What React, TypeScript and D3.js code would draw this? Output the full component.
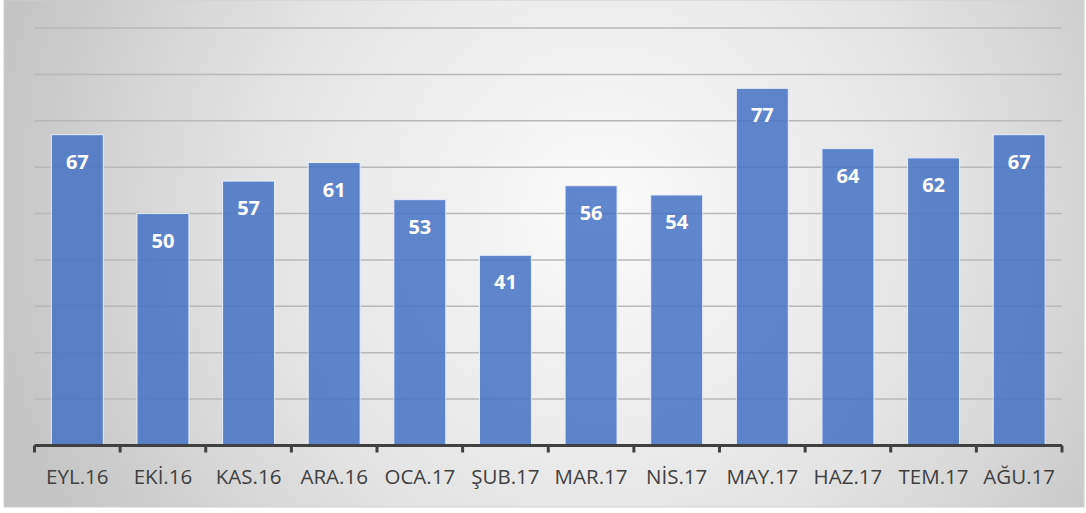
import React, { useEffect, useRef } from "react";
import * as d3 from "d3";

const months = ["EYL.16", "EKİ.16", "KAS.16", "ARA.16", "OCA.17", "ŞUB.17", "MAR.17", "NİS.17", "MAY.17", "HAZ.17", "TEM.17", "AĞU.17"];
const values = [67, 50, 57, 61, 53, 41, 56, 54, 77, 64, 62, 67];
const gridTicks = [10, 20, 30, 40, 50, 60, 70, 80, 90];

const W = 1086;
const H = 513;

function drawChart(node: SVGSVGElement) {
  const margin = { top: 28, right: 24, bottom: 67.5, left: 34.5 };
  const svg = d3.select(node);
  svg.selectAll("*").remove();

  const defs = svg.append("defs");
  const grad = defs.append("radialGradient")
    .attr("id", "bg")
    .attr("gradientUnits", "userSpaceOnUse")
    .attr("cx", 600).attr("cy", 210).attr("r", 620);
  grad.append("stop").attr("offset", "0").attr("stop-color", "#fbfbfb");
  grad.append("stop").attr("offset", "0.55").attr("stop-color", "#e4e4e4");
  grad.append("stop").attr("offset", "1").attr("stop-color", "#c4c4c4");

  svg.append("rect").attr("width", W).attr("height", H).attr("fill", "#ffffff");
  svg.append("rect")
    .attr("x", 4).attr("y", 0)
    .attr("width", W - 6).attr("height", 507)
    .attr("fill", "url(#bg)")
    .attr("stroke", "#d0d0d0").attr("stroke-width", 1);

  const x = d3.scaleBand<string>()
    .domain(months)
    .range([margin.left, W - margin.right])
    .paddingInner(0.393)
    .paddingOuter(0.1965);

  const y = d3.scaleLinear()
    .domain([0, 90])
    .range([H - margin.bottom, margin.top]);

  const g = svg.append("g");

  // grid lines
  g.selectAll(".grid")
    .data(gridTicks)
    .enter().append("line")
    .attr("x1", margin.left).attr("x2", W - margin.right)
    .attr("y1", d => y(d)).attr("y2", d => y(d))
    .attr("stroke", "#b8b8b8").attr("stroke-width", 1.5);

  // bars
  g.selectAll(".bar")
    .data(values)
    .enter().append("rect")
    .attr("x", (d, i) => x(months[i])!)
    .attr("y", d => y(d))
    .attr("width", x.bandwidth())
    .attr("height", d => y(0) - y(d))
    .attr("fill", "#4472c4")
    .attr("fill-opacity", 0.85)
    .attr("stroke", "#e8eef8")
    .attr("stroke-width", 1);

  // data labels
  g.selectAll(".lbl")
    .data(values)
    .enter().append("text")
    .attr("x", (d, i) => x(months[i])! + x.bandwidth() / 2)
    .attr("y", d => y(d) + 34)
    .attr("text-anchor", "middle")
    .attr("fill", "#ffffff")
    .style("font-family", "'Open Sans', sans-serif")
    .style("font-weight", 700)
    .style("font-size", "20px")
    .text(d => d);

  // x axis
  const base = y(0);
  g.append("line")
    .attr("x1", margin.left).attr("x2", W - margin.right)
    .attr("y1", base).attr("y2", base)
    .attr("stroke", "#404040").attr("stroke-width", 3);

  const step = x.step();
  const bounds = d3.range(months.length + 1).map(i => margin.left + i * step);
  g.selectAll(".tick")
    .data(bounds)
    .enter().append("line")
    .attr("x1", d => d).attr("x2", d => d)
    .attr("y1", base).attr("y2", base + 7)
    .attr("stroke", "#404040").attr("stroke-width", 3);

  g.selectAll(".xl")
    .data(months)
    .enter().append("text")
    .attr("x", d => x(d)! + x.bandwidth() / 2)
    .attr("y", 484)
    .attr("text-anchor", "middle")
    .attr("fill", "#404040")
    .style("font-family", "'Open Sans', sans-serif")
    .style("font-size", "20.5px")
    .text(d => d);
}

export default function App() {
  const ref = useRef<SVGSVGElement>(null);
  useEffect(() => {
    if (ref.current) drawChart(ref.current);
  }, []);
  return (
    <div style={{ position: "absolute", left: 0, top: 0 }}>
      <svg ref={ref} width={W} height={H} style={{ display: "block" }} />
    </div>
  );
}
